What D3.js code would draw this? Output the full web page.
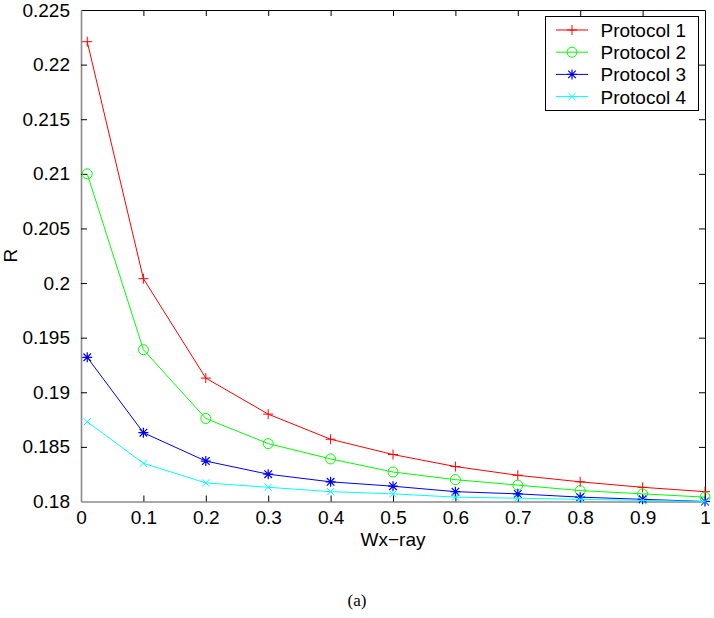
<!DOCTYPE html>
<html>
<head>
<meta charset="utf-8">
<script src="https://cdn.jsdelivr.net/npm/d3@7"></script>
<style>
html,body{margin:0;padding:0;background:#fff;}
svg{display:block;}
text{font-family:"Liberation Sans",Arial,Helvetica,sans-serif;}
</style>
</head>
<body>
<svg id="chart" width="714" height="618"></svg>
<script>
const xValues = [0.01, 0.1, 0.2, 0.3, 0.4, 0.5, 0.6, 0.7, 0.8, 0.9, 1.0];
const protocol1 = [0.2221, 0.2004, 0.1913, 0.1880, 0.1857, 0.1843, 0.1832, 0.1824, 0.1818, 0.1813, 0.1809];
const protocol2 = [0.2100, 0.1939, 0.1876, 0.1853, 0.1839, 0.1827, 0.1820, 0.1815, 0.1810, 0.1807, 0.1804];
const protocol3 = [0.1932, 0.1863, 0.1837, 0.1825, 0.1818, 0.1814, 0.1809, 0.1807, 0.1804, 0.1802, 0.1800];
const protocol4 = [0.1873, 0.1835, 0.1817, 0.1813, 0.1809, 0.1807, 0.1804, 0.1803, 0.1802, 0.1801, 0.1800];
const seriesNames = ["Protocol 1", "Protocol 2", "Protocol 3", "Protocol 4"];
const seriesColors = ["#ff0000", "#00ff00", "#0000ff", "#00ffff"];
const seriesMarkers = ["plus", "circle", "star", "cross"];
const xTicks = [0, 0.1, 0.2, 0.3, 0.4, 0.5, 0.6, 0.7, 0.8, 0.9, 1];
const yTicks = [0.18, 0.185, 0.19, 0.195, 0.2, 0.205, 0.21, 0.215, 0.22, 0.225];
const xLabel = "Wx\u2212ray";
const yLabel = "R";
const caption = "(a)";

const allSeries = [protocol1, protocol2, protocol3, protocol4];
const svg = d3.select("#chart");
const L = 81, R = 705, T = 10, B = 501.5;
const x = d3.scaleLinear().domain([0, 1]).range([L, R]);
const y = d3.scaleLinear().domain([0.18, 0.225]).range([B, T]);
const fmt = v => String(+v.toFixed(3));

// axes with inward ticks
const tl = 6;
const gB = svg.append("g").attr("transform", `translate(0,${B})`)
  .call(d3.axisBottom(x).tickValues(xTicks).tickFormat(fmt).tickSizeInner(-tl).tickSizeOuter(0).tickPadding(9));
const gT = svg.append("g").attr("transform", `translate(0,${T})`)
  .call(d3.axisTop(x).tickValues(xTicks).tickFormat("").tickSizeInner(-tl).tickSizeOuter(0));
const gL = svg.append("g").attr("transform", `translate(${L},0)`)
  .call(d3.axisLeft(y).tickValues(yTicks).tickFormat(fmt).tickSizeInner(-tl).tickSizeOuter(0).tickPadding(11));
const gR = svg.append("g").attr("transform", `translate(${R},0)`)
  .call(d3.axisRight(y).tickValues(yTicks).tickFormat("").tickSizeInner(-tl).tickSizeOuter(0));
[gB, gT, gL, gR].forEach(g => {
  g.selectAll(".tick line").attr("stroke", "#000").attr("stroke-width", 1);
  g.selectAll("text").attr("font-size", 19).attr("fill", "#000")
    .attr("font-family", "'Liberation Sans',Arial,sans-serif");
});
gT.select(".domain").attr("stroke", "#000");
gR.select(".domain").attr("stroke", "#000");
gB.select(".domain").attr("stroke", "#8a8a8a").attr("stroke-width", 1.6);
gL.select(".domain").attr("stroke", "#8a8a8a").attr("stroke-width", 1.6);
gB.selectAll(".tick text").attr("dy", "0.71em");
// hide edge ticks overlapping the frame
gB.selectAll(".tick").filter(d => d === 0 || d === 1).select("line").remove();
gT.selectAll(".tick").filter(d => d === 0 || d === 1).select("line").remove();
gL.selectAll(".tick").filter(d => d === 0.18 || d === 0.225).select("line").remove();
gR.selectAll(".tick").filter(d => d === 0.18 || d === 0.225).select("line").remove();

// axis titles
svg.append("text").attr("x", (L + R) / 2).attr("y", 546).attr("text-anchor", "middle")
  .attr("font-size", 19).text(xLabel);
svg.append("text").attr("transform", `translate(17,${(T + B) / 2}) rotate(-90)`)
  .attr("text-anchor", "middle").attr("font-size", 19).text(yLabel);
svg.append("text").attr("x", 357).attr("y", 606).attr("text-anchor", "middle")
  .attr("font-size", 17).style("font-family", "'Liberation Serif','Times New Roman',serif").text(caption);

function drawMarker(g, type, cx, cy, color) {
  const s = 5;
  if (type === "plus") {
    g.append("path").attr("d", `M${cx - s},${cy}H${cx + s}M${cx},${cy - s}V${cy + s}`)
      .attr("stroke", color).attr("fill", "none");
  } else if (type === "circle") {
    g.append("circle").attr("cx", cx).attr("cy", cy).attr("r", 5)
      .attr("stroke", color).attr("fill", "none");
  } else if (type === "star") {
    const d = 3.8;
    g.append("path").attr("d",
      `M${cx - s},${cy}H${cx + s}M${cx},${cy - s}V${cy + s}M${cx - d},${cy - d}L${cx + d},${cy + d}M${cx - d},${cy + d}L${cx + d},${cy - d}`)
      .attr("stroke", color).attr("fill", "none").attr("stroke-width", 1.2);
  } else if (type === "cross") {
    const d = 3.6;
    g.append("path").attr("d", `M${cx - d},${cy - d}L${cx + d},${cy + d}M${cx - d},${cy + d}L${cx + d},${cy - d}`)
      .attr("stroke", color).attr("fill", "none");
  }
}

const line = d3.line().x(d => x(d[0])).y(d => y(d[1]));
allSeries.forEach((vals, i) => {
  const pts = xValues.map((xv, j) => [xv, vals[j]]);
  const g = svg.append("g");
  g.append("path").datum(pts).attr("d", line).attr("fill", "none")
    .attr("stroke", seriesColors[i]).attr("stroke-width", 1);
  pts.forEach(p => drawMarker(g, seriesMarkers[i], x(p[0]), y(p[1]), seriesColors[i]));
});

// legend
const lg = svg.append("g");
lg.append("rect").attr("x", 545.5).attr("y", 16.5).attr("width", 153).attr("height", 94)
  .attr("fill", "#fff").attr("stroke", "#000").attr("stroke-width", 1);
const rowY = [30, 52.2, 74.4, 96.6];
seriesNames.forEach((name, i) => {
  lg.append("line").attr("x1", 556).attr("x2", 588).attr("y1", rowY[i]).attr("y2", rowY[i])
    .attr("stroke", seriesColors[i]).attr("stroke-width", 1);
  drawMarker(lg, seriesMarkers[i], 572, rowY[i], seriesColors[i]);
  lg.append("text").attr("x", 600.5).attr("y", rowY[i] + 7).attr("font-size", 19).text(name);
});
</script>
</body>
</html>
